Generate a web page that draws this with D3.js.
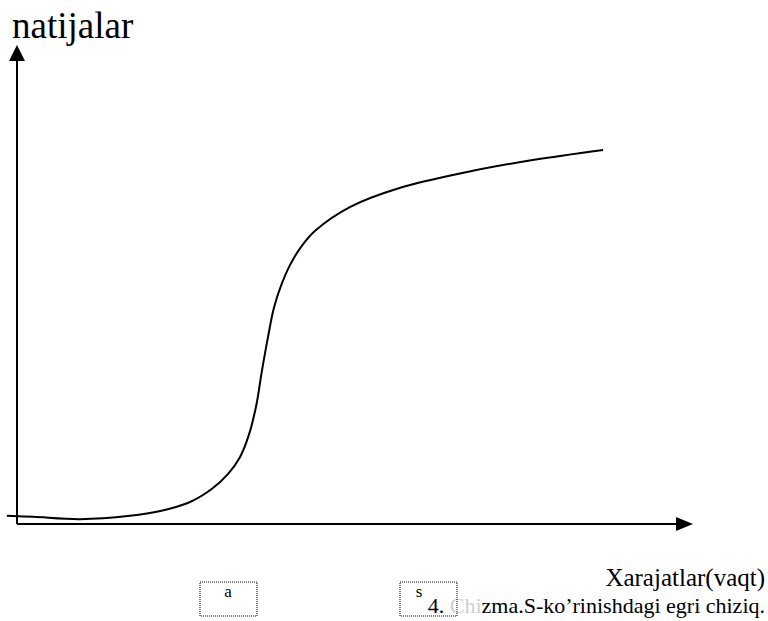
<!DOCTYPE html>
<html>
<head>
<meta charset="utf-8">
<script src="https://cdn.jsdelivr.net/npm/d3@7"></script>
<style>
  body { margin: 0; background: #fff; }
  svg text { font-family: "Liberation Serif", "DejaVu Serif", "Times New Roman", Times, serif; }
</style>
</head>
<body>
<script>
// S-curve (x: costs/time, y: results), 0..100 units
var costX   = [-1.5, 2.4, 9.3, 16.7, 21.2, 25.6, 28.8, 31.2, 33.0, 34.3, 35.4, 36.2, 37.1, 38.0, 39.1, 40.4, 42.0, 44.1, 49.3, 56.7, 66.6, 76.3, 86.7];
var resultY = [1.7, 1.5, 1.0, 1.7, 2.7, 4.6, 7.3, 10.4, 14.0, 18.6, 24.8, 31.7, 38.8, 45.1, 49.9, 54.1, 57.8, 61.2, 66.2, 70.2, 73.5, 76.0, 78.1];

var yTitle = "natijalar";
var xTitle = "Xarajatlar(vaqt)";
var captionParts = ["4. ", "Chi", "zma.S-ko\u2019rinishdagi egri chiziq."];
var boxLabels = ["a", "s"];

var width = 768;
var height = 621;

var svg = d3.select("body").append("svg")
  .attr("width", width)
  .attr("height", height);

var x = d3.scaleLinear().domain([0, 100]).range([17, 693]);
var y = d3.scaleLinear().domain([0, 100]).range([524, 45]);

// axes with arrow heads
svg.append("line")
  .attr("x1", x(0)).attr("y1", y(0))
  .attr("x2", x(0)).attr("y2", y(100) + 14)
  .attr("stroke", "#000").attr("stroke-width", 2);
svg.append("path")
  .attr("d", "M" + x(0) + "," + y(100) + "L" + (x(0) - 8) + "," + (y(100) + 16) + "L" + (x(0) + 8) + "," + (y(100) + 16) + "Z")
  .attr("fill", "#000");

svg.append("line")
  .attr("x1", x(0)).attr("y1", y(0))
  .attr("x2", x(100) - 14).attr("y2", y(0))
  .attr("stroke", "#000").attr("stroke-width", 2);
svg.append("path")
  .attr("d", "M" + x(100) + "," + y(0) + "L" + (x(100) - 17) + "," + (y(0) - 7) + "L" + (x(100) - 17) + "," + (y(0) + 7) + "Z")
  .attr("fill", "#000");

// curve
var pts = costX.map(function(d, i) { return [d, resultY[i]]; });
var line = d3.line()
  .x(function(d) { return x(d[0]); })
  .y(function(d) { return y(d[1]); })
  .curve(d3.curveCatmullRom.alpha(0.5));

svg.append("path")
  .datum(pts)
  .attr("d", line)
  .attr("fill", "none")
  .attr("stroke", "#000")
  .attr("stroke-width", 2);

// titles
svg.append("text")
  .attr("x", 12).attr("y", 38)
  .style("font-size", "37px")
  .text(yTitle);

svg.append("text")
  .attr("x", 765).attr("y", 586)
  .attr("text-anchor", "end")
  .style("font-size", "25px")
  .text(xTitle);

var cap = svg.append("text")
  .attr("x", 765).attr("y", 613)
  .attr("text-anchor", "end")
  .style("font-size", "22px");
cap.selectAll("tspan")
  .data(captionParts)
  .enter().append("tspan")
  .attr("fill", function(d, i) { return i == 1 ? "#d0d0d0" : "#000"; })
  .text(function(d) { return d; });

// dotted boxes
var boxX = [200, 400];
var labX = [228, 419];
svg.selectAll(".box")
  .data(boxLabels)
  .enter().append("rect")
  .attr("class", "box")
  .attr("x", function(d, i) { return boxX[i]; })
  .attr("y", 582)
  .attr("width", 57)
  .attr("height", 34)
  .attr("fill", "none")
  .attr("stroke", "#000")
  .attr("stroke-width", 1)
  .attr("stroke-dasharray", "1,1");

svg.selectAll(".boxlab")
  .data(boxLabels)
  .enter().append("text")
  .attr("class", "boxlab")
  .attr("x", function(d, i) { return labX[i]; })
  .attr("y", 597)
  .attr("text-anchor", "middle")
  .style("font-size", "17px")
  .text(function(d) { return d; });
</script>
</body>
</html>
